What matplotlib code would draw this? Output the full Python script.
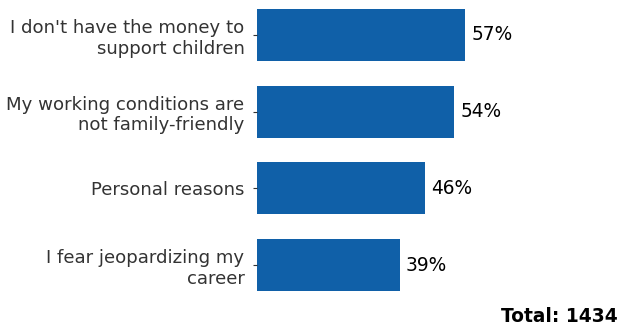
import matplotlib
matplotlib.use("Agg")
import matplotlib.pyplot as plt

labels = ["I don't have the money to\nsupport children",
          "My working conditions are\nnot family-friendly",
          "Personal reasons",
          "I fear jeopardizing my\ncareer"]
values = [57, 54, 46, 39]
total = 1434

fig = plt.figure(figsize=(6.19, 3.29), dpi=100)
ax = fig.add_axes([257 / 619, 1 - 300 / 329, 1 - 257 / 619, 300 / 329])

pos = list(range(len(values)))
ax.barh(pos, values, height=0.68, color="#1060a8")
for p, v in zip(pos, values):
    ax.text(v + 1.6, p, f"{v}%", va="center", ha="left", fontsize=13.4, color="black")

ax.set_yticks(pos)
ax.set_yticklabels(labels, fontsize=13.1, color="#333333")
ax.tick_params(axis="y", length=3, color="#333333", pad=6)
ax.set_xticks([])
ax.set_xlim(0, 99)
ax.set_ylim(3 + 35 / 76.7, -35 / 76.7)
for s in ax.spines.values():
    s.set_visible(False)

fig.text(0.998, 0.01, f"Total: {total}", ha="right", va="bottom",
         fontsize=13.4, fontweight="bold")

fig.savefig("out.png", dpi=100)
